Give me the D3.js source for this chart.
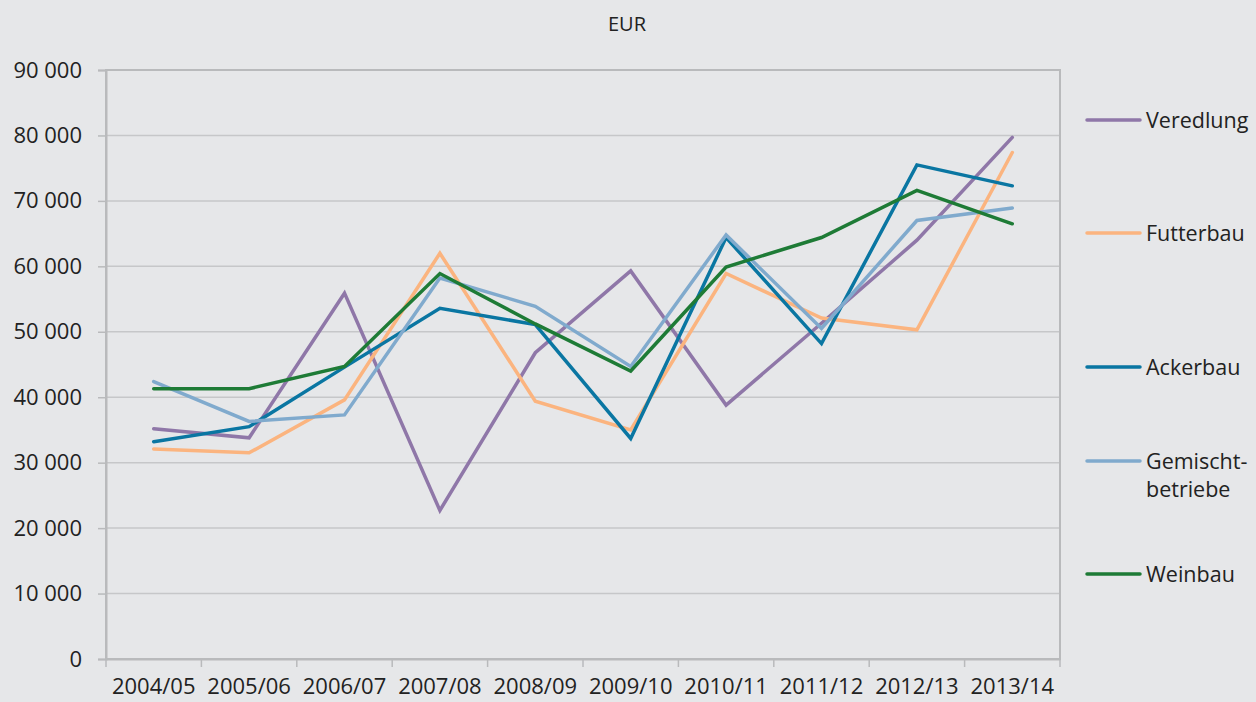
<!DOCTYPE html>
<html><head><meta charset="utf-8">
<script src="https://cdn.jsdelivr.net/npm/d3@7"></script>
<style>
html,body{margin:0;padding:0;background:#e6e7e9;}
svg{display:block;}
text{font-family:"Open Sans",sans-serif;fill:#222;}
</style></head><body>
<svg id="chart" width="1256" height="702"></svg>
<script>
const categories = ["2004/05","2005/06","2006/07","2007/08","2008/09","2009/10","2010/11","2011/12","2012/13","2013/14"];
const veredlung = [35200,33800,55900,22700,46800,59300,38800,51300,64000,79700];
const futterbau = [32100,31500,39600,62000,39400,35000,58900,52100,50300,77400];
const ackerbau = [33200,35500,44600,53600,51100,33700,64400,48200,75500,72300];
const gemischtbetriebe = [42400,36300,37300,58200,53900,44700,64800,50500,67000,68900];
const weinbau = [41300,41300,44700,58900,51200,44000,59900,64400,71600,66500];
const seriesNames = ["Veredlung","Futterbau","Ackerbau","Gemischt-\nbetriebe","Weinbau"];
const seriesColors = ["#8f77a8","#fbb47f","#0a76a2","#80aacd","#1e7b36"];
const yTicks = [0,10000,20000,30000,40000,50000,60000,70000,80000,90000];
const unitLabel = "EUR";

const series = [veredlung,futterbau,ackerbau,gemischtbetriebe,weinbau];
const svg = d3.select("#chart");
const L=106,R=1060,T=70,B=659;

const x = d3.scaleBand().domain(categories).range([L,R]);
const y = d3.scaleLinear().domain([0,90000]).range([B,T]);

// gridlines
svg.append("g").selectAll("line").data(yTicks.filter(d=>d>0&&d<90000)).join("line")
  .attr("x1",L).attr("x2",R).attr("y1",d=>y(d)).attr("y2",d=>y(d))
  .attr("stroke","#c6c7c9").attr("stroke-width",1.5);

// frame
svg.append("rect").attr("x",L).attr("y",T).attr("width",R-L).attr("height",B-T)
  .attr("fill","none").attr("stroke","#b9babc").attr("stroke-width",2);

const fmt = d => d3.format(",")(d).replace(/,/g," ");
const yAxis = d3.axisLeft(y).tickValues(yTicks).tickFormat(fmt).tickSize(8).tickPadding(16);
const gy = svg.append("g").attr("transform",`translate(${L},0)`).call(yAxis);
gy.select(".domain").attr("stroke","#b9babc").attr("stroke-width",2);
gy.selectAll(".tick line").attr("stroke","#b9babc").attr("stroke-width",1.5);
gy.selectAll("text").style("font-size","22px").attr("fill","#222").attr("font-family","Open Sans");

const xAxis = d3.axisBottom(x).tickSize(0).tickPadding(19);
const gx = svg.append("g").attr("transform",`translate(0,${B})`).call(xAxis);
gx.select(".domain").attr("stroke","#b9babc").attr("stroke-width",2);
gx.selectAll("text").style("font-size","22px").attr("fill","#222").attr("font-family","Open Sans");
// category boundary ticks
svg.append("g").selectAll("line").data(d3.range(categories.length+1)).join("line")
  .attr("x1",i=>L+i*x.step()).attr("x2",i=>L+i*x.step()).attr("y1",B).attr("y2",B+8)
  .attr("stroke","#b9babc").attr("stroke-width",1.5);

// lines
const line = d3.line().x((d,i)=>x(categories[i])+x.bandwidth()/2).y(d=>y(d));
series.forEach((s,k)=>{
  svg.append("path").datum(s).attr("d",line).attr("fill","none")
    .attr("stroke",seriesColors[k]).attr("stroke-width",3.5).attr("stroke-linejoin","miter").attr("stroke-linecap","round");
});

// title
svg.append("text").attr("x",627).attr("y",31).attr("text-anchor","middle").style("font-size","20px").text(unitLabel);

// legend
const legY = [120,233,367,461,574];
seriesNames.forEach((n,k)=>{
  const g = svg.append("g").attr("transform",`translate(1087,${legY[k]})`);
  g.append("line").attr("x1",0).attr("x2",53).attr("stroke",seriesColors[k]).attr("stroke-width",3.5).attr("stroke-linecap","round");
  const t = g.append("text").attr("x",59).attr("y",8).style("font-size","21.5px");
  n.split("\n").forEach((p,j)=>t.append("tspan").attr("x",59).attr("dy",j?28:0).text(p));
});
</script>
</body></html>
